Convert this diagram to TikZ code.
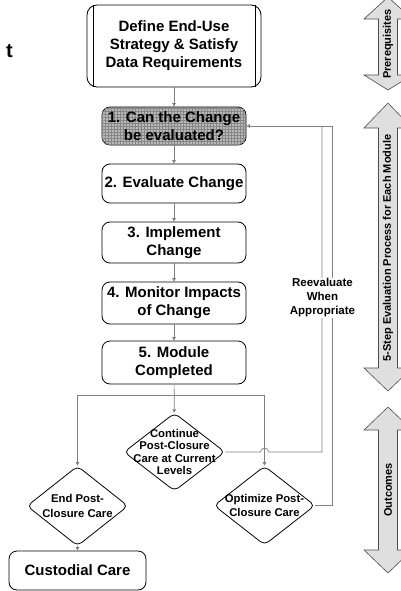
\documentclass[tikz,border=0pt]{standalone}
\usepackage{fontspec}
\setmainfont{Liberation Sans}
\usetikzlibrary{shapes.geometric,arrows.meta,patterns}
\begin{document}
\begin{tikzpicture}[x=1pt,y=-1pt,
	stepbox/.style={shape=rectangle,draw,line width=0.8pt,rounded corners=8pt,minimum width=144pt,inner sep=0pt,align=center,font=\bfseries\fontsize{15}{18}\selectfont},
	choice/.style={shape=diamond,draw,line width=0.8pt,rounded corners=5pt,minimum width=101pt,minimum height=79pt,inner sep=0pt},
	choicetext/.style={align=center,inner sep=0pt},
	flow/.style={draw=gray,line width=0.7pt,-{Triangle[length=3.5pt,width=3.5pt]}},
	link/.style={draw=gray,line width=0.7pt},
	phase/.style={draw=black!70,line width=0.6pt,fill=gray!25}]
	\useasboundingbox (0,0) rectangle (401,591);

	\node (title) at (9.5,51) [font=\bfseries\fontsize{20}{24}\selectfont] {t};

	\node (define) at (174,46) [stepbox,rounded corners=10pt,minimum width=174pt,minimum height=82pt] {Define End-Use\\Strategy \& Satisfy\\Data Requirements};
	\draw[line width=0.8pt] ([xshift=7pt]define.north west) -- ([xshift=7pt]define.south west);
	\draw[line width=0.8pt] ([xshift=-6pt]define.north east) -- ([xshift=-6pt]define.south east);

	\node (can) at (174,126) [stepbox,minimum height=38pt,fill=gray!55,postaction={pattern=grid,pattern color=gray!95}] {1. Can the Change\\be evaluated?};
	\node (eval) at (174,183.5) [stepbox,minimum height=39pt] {2. Evaluate Change};
	\node (impl) at (174,242.5) [stepbox,minimum height=41pt] {3. Implement\\Change};
	\node (mon) at (174,303) [stepbox,minimum height=42pt] {4. Monitor Impacts\\of Change};
	\node (done) at (174,362.5) [stepbox,minimum height=43pt] {5. Module\\Completed};

	\node (cont) at (174.5,452) [choice,minimum height=78pt] {};
	\node (cont-t) at (cont) [choicetext,font=\bfseries\fontsize{11.3}{12.3}\selectfont] {Continue\\Post-Closure\\Care at Current\\Levels};
	\node (endpc) at (77.5,506) [choice,minimum height=80pt] {};
	\node (endpc-t) at (endpc) [choicetext,font=\bfseries\fontsize{11.3}{15}\selectfont] {End Post-\\Closure Care};
	\node (opt) at (264.5,505.5) [choice] {};
	\node (opt-t) at (opt) [choicetext,font=\bfseries\fontsize{11.3}{14}\selectfont] {Optimize Post-\\Closure Care};

	\node (cust) at (77.5,570.5) [stepbox,minimum width=137pt,minimum height=39pt] {Custodial Care};

	\draw[flow] (define) -- (can);
	\draw[flow] (can) -- (eval);
	\draw[flow] (eval) -- (impl);
	\draw[flow] (impl) -- (mon);
	\draw[flow] (mon) -- (done);
	\draw[flow] (done) -- (cont);
	\coordinate (split) at (174,395);
	\draw[flow] (split) -| (endpc.north);
	\draw[flow] (split) -| (opt.north);
	\draw[flow] (endpc) -- (cust);

	% loop back to step 1
	\coordinate (loopA) at (322,126);
	\coordinate (loopB) at (332,126);
	\coordinate (hop) at (opt.north |- cont.east);
	\draw[link] (cont.east) -- ([xshift=-4pt]hop) arc[start angle=180,end angle=0,radius=4pt] -| (loopA);
	\draw[flow] (opt.east) -| (loopB) -- (can.east);
	\node (reeval) at (322.5,298) [fill=white,inner sep=1pt,align=center,font=\bfseries\fontsize{11.5}{14}\selectfont] {Reevaluate\\When\\Appropriate};

	% phase arrows on the right
	\begin{scope}
		\clip (0,0) rectangle (401,591);
		\foreach \ya/\yb/\yc/\yd/\ym/\txt in {-3/19/75/90/44/Prerequisites,103/128/368/391/248/5-Step Evaluation Process for Each Module,407/430/550/573/490/Outcomes}{
			\draw[phase] (388,\ya) -- (412,\yb) -- (397.5,\yb) -- (397.5,\yc) -- (412,\yc) -- (388,\yd) -- (364,\yc) -- (378.5,\yc) -- (378.5,\yb) -- (364,\yb) -- cycle;
			\node (phase\ym) at (388,\ym) [rotate=90,font=\bfseries\fontsize{11}{12}\selectfont] {\txt};
		}
	\end{scope}
\end{tikzpicture}
\end{document}
